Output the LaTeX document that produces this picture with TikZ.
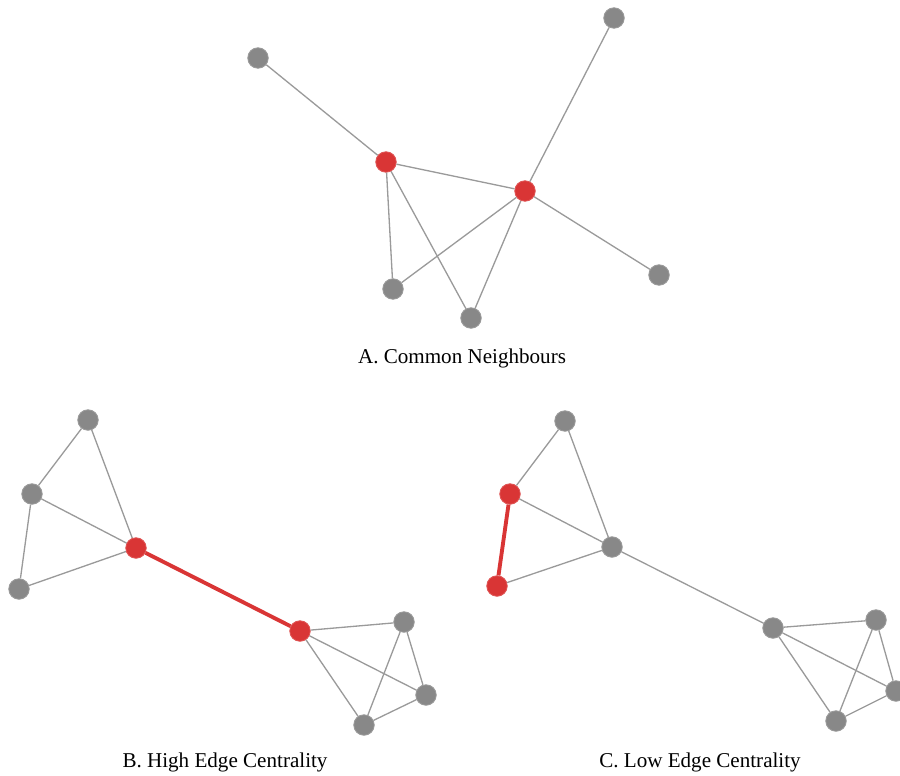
\documentclass[tikz,border=0pt]{standalone}
\usepackage{fontspec}
\setmainfont{Liberation Serif}
\usepackage{xcolor}
\definecolor{nodegray}{HTML}{888888}
\definecolor{edgegray}{HTML}{9A9A9A}
\definecolor{hired}{HTML}{D93535}
\tikzset{
	vert/.style={circle, fill=nodegray, draw=nodegray!85!white, line width=0.5pt, minimum size=4.1mm, inner sep=0pt},
	hivert/.style={vert, fill=hired, draw=hired!85!white},
	link/.style={draw=edgegray, line width=0.75pt},
	hilink/.style={draw=hired, line width=2.2pt},
	caption/.style={font=\fontsize{12}{14}\selectfont, inner sep=0pt}
}

\begin{document}
\begin{tikzpicture}[x=0.2mm, y=-0.2mm]
		\useasboundingbox (0, 0) rectangle (900, 776);

		% A
		\node[vert]		(a1) at (258, 58) {};
		\node[hivert]	(a2) at (386, 162) {};
		\node[hivert]	(a3) at (525, 191) {};
		\node[vert]		(a4) at (614, 18) {};
		\node[vert]		(a5) at (393, 289) {};
		\node[vert]		(a6) at (471, 318) {};
		\node[vert]		(a7) at (659, 275) {};
		\foreach \s/\t in {a1/a2, a2/a3, a2/a5, a2/a6, a3/a4, a3/a5, a3/a6, a3/a7} {
			\draw[link]	(\s) to (\t);
		}
		\node[caption]	(capA) at (462, 358) {A. Common Neighbours};

		% B
		\node[vert]		(b1) at (88, 420) {};
		\node[vert]		(b2) at (32, 494) {};
		\node[hivert]	(b3) at (136, 548) {};
		\node[vert]		(b4) at (19, 589) {};
		\node[hivert]	(b5) at (300, 631) {};
		\node[vert]		(b6) at (404, 622) {};
		\node[vert]		(b7) at (426, 695) {};
		\node[vert]		(b8) at (364, 725) {};
		\foreach \s/\t in {b1/b2, b1/b3, b2/b3, b2/b4, b4/b3, b5/b6, b5/b7, b5/b8, b6/b7, b6/b8, b8/b7} {
			\draw[link]	(\s) to (\t);
		}
		\draw[hilink]	(b3) to (b5);
		\node[caption]	(capB) at (225, 762) {B. High Edge Centrality};

		% C
		\node[vert]		(c1) at (565, 421) {};
		\node[hivert]	(c2) at (510, 494) {};
		\node[vert]		(c3) at (612, 547) {};
		\node[hivert]	(c4) at (497, 586) {};
		\node[vert]		(c5) at (773, 628) {};
		\node[vert]		(c6) at (876, 620) {};
		\node[vert]		(c7) at (896, 691) {};
		\node[vert]		(c8) at (836, 721) {};
		\foreach \s/\t in {c1/c2, c1/c3, c2/c3, c4/c3, c3/c5, c5/c6, c5/c7, c5/c8, c6/c7, c6/c8, c8/c7} {
			\draw[link]	(\s) to (\t);
		}
		\draw[hilink]	(c2) to (c4);
		\node[caption]	(capC) at (700, 762) {C. Low Edge Centrality};
	\end{tikzpicture}
\end{document}
